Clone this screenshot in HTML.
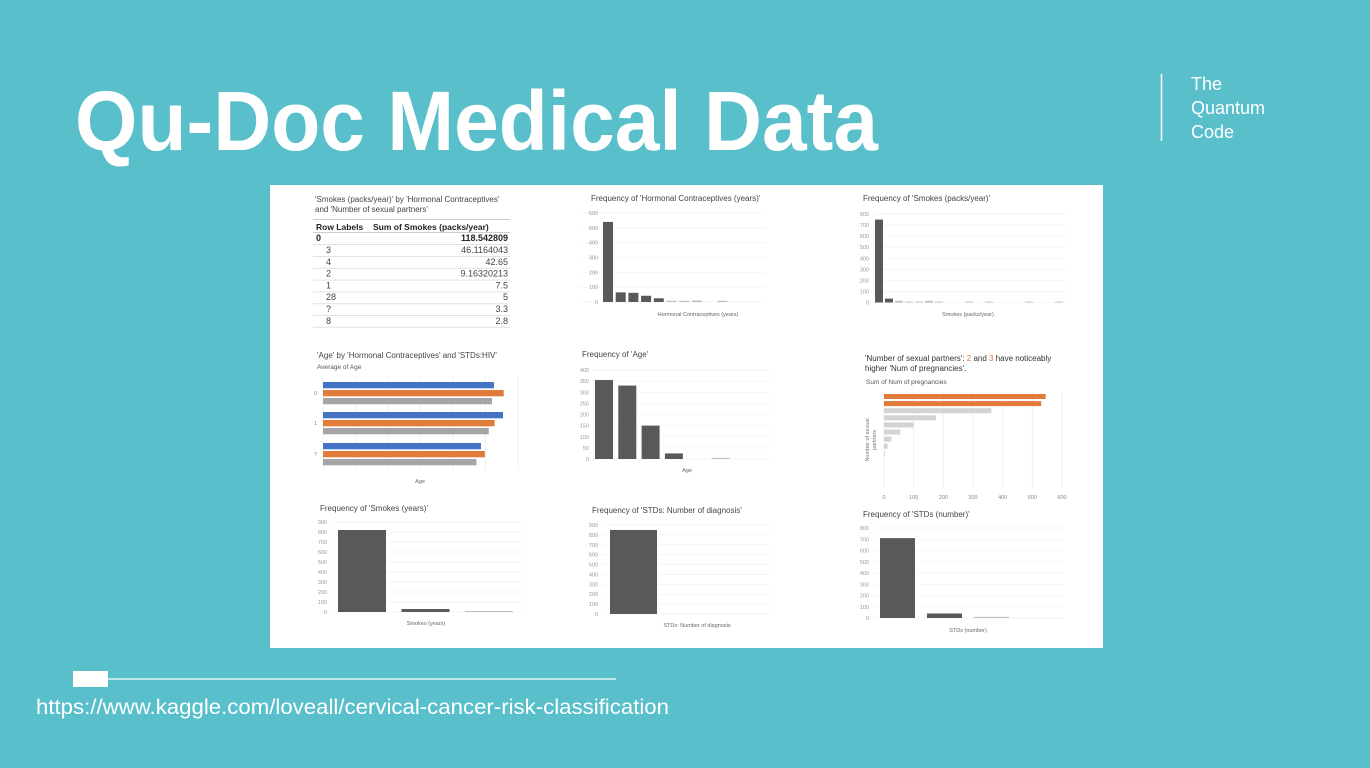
<!DOCTYPE html>
<html><head><meta charset="utf-8"><title>Qu-Doc Medical Data</title>
<style>
html,body{margin:0;padding:0;background:#58BFCB;}
svg{display:block;font-family:"Liberation Sans",Arial,sans-serif;}
</style></head>
<body>
<svg id="slide" width="1370" height="768" viewBox="0 0 1370 768" xmlns="http://www.w3.org/2000/svg">
<rect x="0" y="0" width="1370" height="768" fill="#58BFCB"/>
<text x="75" y="150" font-size="84" font-weight="bold" fill="#fff" textLength="803" lengthAdjust="spacingAndGlyphs">Qu-Doc Medical Data</text>
<line x1="1161.5" y1="74" x2="1161.5" y2="141" stroke="#fff" stroke-width="1.5"/>
<g fill="#fff" font-size="18">
<text x="1191" y="90">The</text><text x="1191" y="114">Quantum</text><text x="1191" y="138">Code</text>
</g>
<rect x="73" y="671" width="35" height="16" fill="#fff"/>
<line x1="108" y1="679" x2="616" y2="679" stroke="#fff" stroke-width="1.2"/>
<text x="36" y="714" font-size="21" fill="#fff" textLength="633" lengthAdjust="spacingAndGlyphs">https://www.kaggle.com/loveall/cervical-cancer-risk-classification</text>
<rect x="270" y="185" width="833" height="463" fill="#fff"/>
<g id="charts"></g>
</svg>
<script>
// ---- data ----
const tableRows = ["3","4","2","1","28","?","8"];
const tableVals = ["46.1164043","42.65","9.16320213","7.5","5","3.3","2.8"];
const hcVals = [540,65,62,42,25,8,8,10,0,8];
const hcTicks = [0,100,200,300,400,500,600];
const packVals = [750,35,15,8,8,15,8,0,0,8,0,8,0,0,0,8,0,0,8];
const packTicks = [0,100,200,300,400,500,600,700,800];
const ageCats = ["0","1","?"];
const ageSeriesBlue = [26.3,27.7,24.3];
const ageSeriesOrange = [27.8,26.4,24.9];
const ageSeriesGray = [26.0,25.5,23.6];
const ageFreqVals = [355,330,150,25,0,5];
const ageFreqTicks = [0,50,100,150,200,250,300,350,400];
const pregVals = [545,530,362,175,100,55,25,12,3];
const pregTicks = [0,100,200,300,400,500,600];
const smokeYrVals = [820,30,10];
const stdDiagVals = [850];
const tick900 = [0,100,200,300,400,500,600,700,800,900];
const stdNumVals = [710,40,10];
const tick800 = [0,100,200,300,400,500,600,700,800];

const NS="http://www.w3.org/2000/svg";
const root=document.getElementById('charts');
function el(tag,attrs,parent,txt){const e=document.createElementNS(NS,tag);for(const k in attrs)e.setAttribute(k,attrs[k]);if(txt!==undefined)e.textContent=txt;(parent||root).appendChild(e);return e;}
function txt(x,y,s,size,fill,anchor,parent,weight){return el('text',{x:x,y:y,'font-size':size,fill:fill,'text-anchor':anchor||'start','font-weight':weight||'normal'},parent,s);}

// table
const tg=el('g',{});


txt(315,202,"'Smokes (packs/year)' by 'Hormonal Contraceptives'",8,'#444','start',tg);
txt(315,212,"and 'Number of sexual partners'",8,'#444','start',tg);
el('line',{x1:313,y1:219.5,x2:510,y2:219.5,stroke:'#ccc'},tg);
txt(316,230,'Row Labels',8.5,'#222','start',tg,'bold');
txt(373,230,'Sum of Smokes (packs/year)',8.5,'#222','start',tg,'bold');
el('line',{x1:313,y1:232.5,x2:510,y2:232.5,stroke:'#ccc'},tg);
txt(316,241,'0',9,'#222','start',tg,'bold');
txt(508,241,'118.542809',9,'#222','end',tg,'bold');
el('line',{x1:313,y1:244.5,x2:510,y2:244.5,stroke:'#e2e2e2'},tg);
const tclip=el('clipPath',{id:'tclip'},tg);el('rect',{x:300,y:240,width:220,height:88},tclip);
const trows=el('g',{'clip-path':'url(#tclip)'},tg);
const allRows=tableRows.concat(['6']), allVals=tableVals.concat(['2.81032213']);
for(let i=0;i<allRows.length;i++){
  const y=253+i*11.8;
  const r=txt(326,y,allRows[i],9,'#444','start',trows);
  
  
  const v=txt(508,y,allVals[i],9,'#444','end',trows);
  
  
  el('line',{x1:313,y1:y+3.5,x2:510,y2:y+3.5,stroke:'#e2e2e2'},trows);
}

// vertical bar chart helper
function vChart(o){
  const g=el('g',{});
  
  
  const t=txt(o.titleX,o.titleY,o.title,8,'#444','start',g);
  
  
  const max=o.ticks[o.ticks.length-1];
  const yS=v=>o.yBot-(v/max)*(o.yBot-o.yTop);
  o.ticks.forEach(tv=>{
    const y=yS(tv);
    el('line',{x1:o.plotL,y1:y,x2:o.plotR,y2:y,stroke:'#f3f3f3','stroke-width':0.8},g);
    const l=txt(o.labelX,y+2,String(tv),5.5,'#999','end',g);
    
    
  });
  o.vals.forEach((v,i)=>{
    if(v<=0)return;
    const x=o.x0+i*o.step;
    const small=v/max<0.02;
    const b=el('rect',{x:x,y:yS(v),width:o.bw,height:o.yBot-yS(v),fill:small?'#bdbdbd':'#595959'},g);
    
    
  });
  const xl=txt(o.xlX,o.xlY,o.xlabel,5.5,'#666','middle',g);
  
  
}
vChart({name:'hormonal-contraceptives-histogram',title:"Frequency of 'Hormonal Contraceptives (years)'",titleX:591,titleY:201,vals:hcVals,ticks:hcTicks,yTop:213,yBot:302,plotL:580,plotR:765,labelX:598,x0:603,step:12.7,bw:10,xlabel:'Hormonal Contraceptives (years)',xlX:698,xlY:316});
vChart({name:'smokes-packs-histogram',title:"Frequency of 'Smokes (packs/year)'",titleX:863,titleY:201,vals:packVals,ticks:packTicks,yTop:214,yBot:302.5,plotL:873,plotR:1065,labelX:869,x0:875,step:10,bw:8,xlabel:'Smokes (packs/year)',xlX:968,xlY:316});
vChart({name:'age-histogram',title:"Frequency of 'Age'",titleX:582,titleY:357,vals:ageFreqVals,ticks:ageFreqTicks,yTop:370,yBot:459,plotL:592,plotR:770,labelX:589,x0:595,step:23.3,bw:18,xlabel:'Age',xlX:687,xlY:472});
vChart({name:'smokes-years-histogram',title:"Frequency of 'Smokes (years)'",titleX:320,titleY:511,vals:smokeYrVals,ticks:tick900,yTop:522,yBot:612,plotL:333,plotR:522,labelX:327,x0:338,step:63.5,bw:48,xlabel:'Smokes (years)',xlX:426,xlY:625});
vChart({name:'std-diagnosis-histogram',title:"Frequency of 'STDs: Number of diagnosis'",titleX:592,titleY:513,vals:stdDiagVals,ticks:tick900,yTop:525,yBot:614,plotL:603,plotR:770,labelX:598,x0:610,step:63,bw:47,xlabel:'STDs: Number of diagnosis',xlX:697,xlY:627});
vChart({name:'std-number-histogram',title:"Frequency of 'STDs (number)'",titleX:863,titleY:517,vals:stdNumVals,ticks:tick800,yTop:528,yBot:618,plotL:874,plotR:1064,labelX:869,x0:880,step:47,bw:35,xlabel:'STDs (number)',xlX:968,xlY:632});

// grouped horizontal bars: age by HC & HIV
(function(){
  const g=el('g',{});
  
  
  txt(317,358,"'Age' by 'Hormonal Contraceptives' and 'STDs:HIV'",8,'#444','start',g);
  txt(317,369,'Average of Age',6.5,'#555','start',g);
  const x0=323, unit=32.5/5;
  const xS=v=>x0+v*unit;
  for(let k=0;k<=6;k++){el('line',{x1:xS(k*5),y1:376,x2:xS(k*5),y2:470,stroke:'#f0f0f0'},g);}
  const series=[[ageSeriesBlue,'#4472C4'],[ageSeriesOrange,'#E07B39'],[ageSeriesGray,'#A5A5A5']];
  const groupY=[382,412,443];
  ageCats.forEach((c,i)=>{
    const l=txt(317,groupY[i]+13,c,5.5,'#888','end',g);
    
    
    series.forEach((s,j)=>{
      const b=el('rect',{x:x0,y:groupY[i]+j*8,width:xS(s[0][i])-x0,height:6.3,fill:s[1]},g);
      
      
    });
  });
  txt(420,483,'Age',5.5,'#666','middle',g);
})();

// pregnancies horizontal bars
(function(){
  const g=el('g',{});
  
  
  const t=el('text',{x:865,y:361,'font-size':8,fill:'#333'},g);
  t.innerHTML="'Number of sexual partners': <tspan fill='#E07B39'>2</tspan> and <tspan fill='#E07B39'>3</tspan> have noticeably";
  txt(865,371,"higher 'Num of pregnancies'.",8,'#333','start',g);
  txt(866,384,'Sum of Num of pregnancies',6.5,'#555','start',g);
  const x0=884, max=pregTicks[pregTicks.length-1], xS=v=>x0+v/max*178;
  pregTicks.forEach(tv=>{
    el('line',{x1:xS(tv),y1:392,x2:xS(tv),y2:488,stroke:'#efefef'},g);
    const l=txt(xS(tv),499,String(tv),5.5,'#888','middle',g);
    
    
  });
  pregVals.forEach((v,i)=>{
    const b=el('rect',{x:x0,y:394+i*7.1,width:Math.max(xS(v)-x0,0.8),height:5,fill:i<2?'#E07B39':'#d3d3d3'},g);
    
    
  });
  const yt=el('text',{'font-size':5.5,fill:'#777','text-anchor':'middle',transform:'translate(869,440) rotate(-90)'},g);
  yt.innerHTML="<tspan x='0' y='0'>Number of sexual</tspan><tspan x='0' y='7'>partners</tspan>";
})();
</script>
</body></html>
